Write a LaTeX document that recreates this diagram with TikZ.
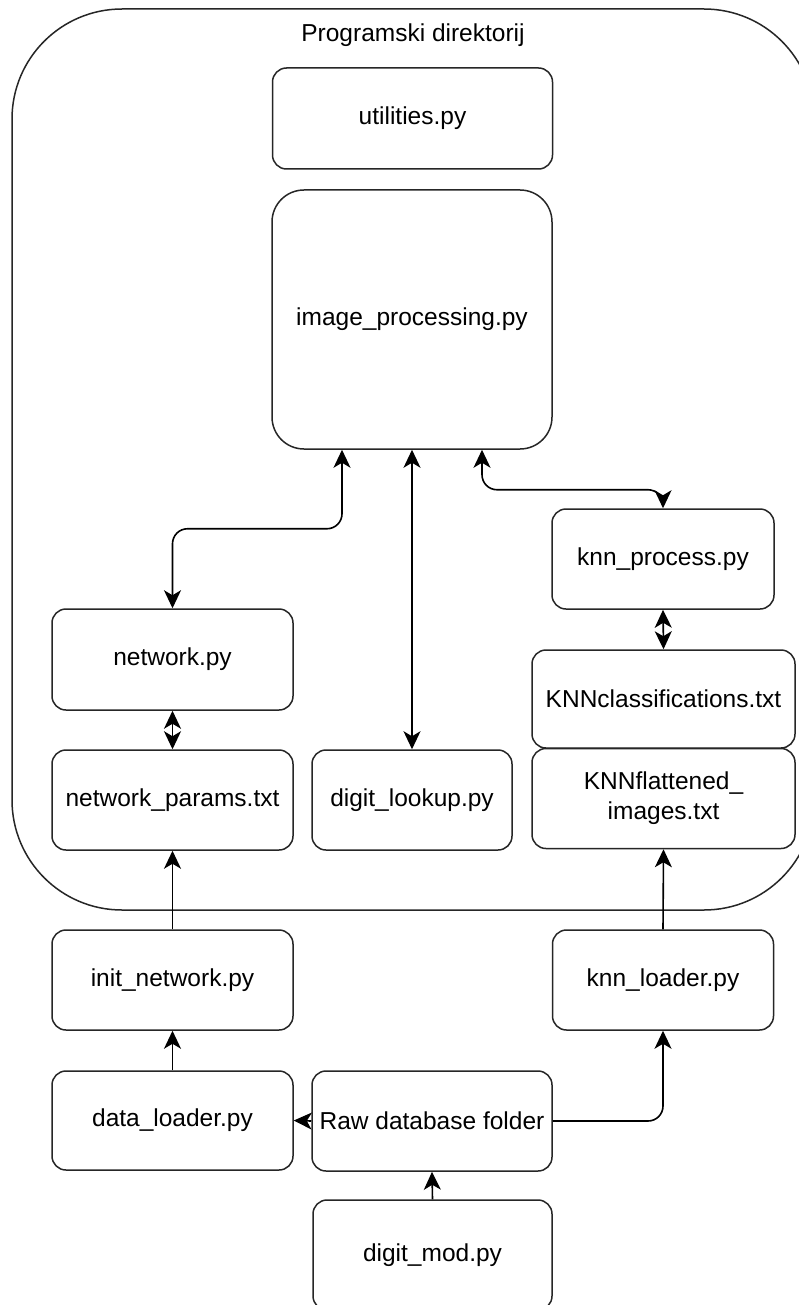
\documentclass[tikz,border=0pt]{standalone}
\usepackage{fontspec}
\setmainfont{Liberation Sans}
\usetikzlibrary{arrows.meta}
\begin{document}
\begin{tikzpicture}[x=1pt,y=-1pt,
  box/.style={draw=black!85, line width=1.5pt, rounded corners=14pt, fill=white,
    inner sep=0pt, align=center, font=\fontsize{24.5}{30}\selectfont},
  tip/.tip={Stealth[length=18pt,width=17pt,inset=5pt]},
  link/.style={line width=1.6pt, draw=black, -tip},
  dlink/.style={line width=1.6pt, draw=black, tip-tip},
  ttl/.style={font=\fontsize{24.5}{30}\selectfont, inner sep=0pt}]
\useasboundingbox (0,0) rectangle (799,1305);
\clip (0,0) rectangle (799,1305);
\fill[white] (0,0) rectangle (799,1305);
% container
\draw[line width=1.5pt, draw=black!85, rounded corners=110pt] (12,9) rectangle (814,910);
\node[ttl] (title) at (413,35) {Programski direktorij};
% nodes
\node[box, minimum width=280pt, minimum height=101pt] (util) at (412.5,118.5) {utilities.py};
\node[box, rounded corners=32pt, minimum width=280pt, minimum height=259pt] (imgp) at (412,319.5) {image\_processing.py};
\node[box, minimum width=222pt, minimum height=100pt] (knnp) at (663,559) {knn\_process.py};
\node[box, minimum width=241pt, minimum height=101pt] (net) at (172.5,659.5) {network.py};
\node[box, minimum width=241pt, minimum height=100pt] (npar) at (172.5,800) {network\_params.txt};
\node[box, minimum width=200pt, minimum height=100pt] (dlook) at (412,800) {digit\_lookup.py};
\node[box, minimum width=263pt, minimum height=98pt] (knncl) at (663.5,699) {KNNclassifications.txt};
\node[box, minimum width=263pt, minimum height=100pt] (knnfl) at (663.5,798.5) {KNNflattened\_\\images.txt};
\node[box, minimum width=241pt, minimum height=100pt] (init) at (172.5,980) {init\_network.py};
\node[box, minimum width=221pt, minimum height=100pt] (knnl) at (663,980) {knn\_loader.py};
\node[box, minimum width=241pt, minimum height=99pt] (dload) at (172.5,1120.5) {data\_loader.py};
\node[box, minimum width=240pt, minimum height=100pt] (raw) at (432,1121) {Raw database folder};
\node[box, minimum width=239pt, minimum height=110pt] (dmod) at (432.5,1255) {digit\_mod.py};
% connectors
\draw[dlink, rounded corners=15pt] ([xshift=-70pt]imgp.south) -- ++(0,79) -| (net.north);
\draw[dlink] (imgp.south) -- (dlook.north);
\draw[dlink, rounded corners=15pt] ([xshift=70pt]imgp.south) -- ++(0,40) -| (knnp.north);
\draw[dlink] (knnp.south) -- (knncl.north);
\draw[dlink] (net.south) -- (npar.north);
\draw[link] (init.north) -- (npar.south);
\draw[link] (knnl.north) -- (knnfl.south);
\draw[link] (dload.north) -- (init.south);
\draw[link] (raw.west) -- (dload.east);
\draw[link, rounded corners=15pt] (raw.east) -| (knnl.south);
\draw[link] (dmod.north) -- (raw.south);
\end{tikzpicture}
\end{document}
